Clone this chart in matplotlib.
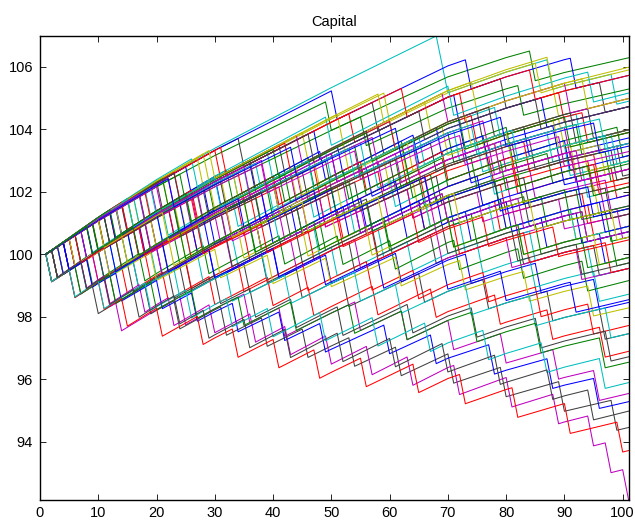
import numpy as np
import matplotlib
matplotlib.use("Agg")
import matplotlib.pyplot as plt

plt.rcParams['font.family'] = ['Liberation Sans', 'DejaVu Sans']

# ---- data ----
time_first, time_last = 1, 101
start_capital = 100.0
# premium income per step, for steps starting in each decade 0-9, 10-19, ... 90-100
decade_drift = [0.125, 0.115, 0.105, 0.095, 0.095, 0.09, 0.09, 0.065, 0.055, 0.045]
claim_size = 1.0

claim_times = [
    [8, 23, 41, 57, 74, 90],
    [12, 30, 55, 71, 93],
    [3, 15, 27, 38, 52, 66, 79, 95],
    [69, 70, 88, 99],
    [5, 19, 33, 46, 60, 81, 97],
    [10, 24, 44, 63, 77, 92],
    [3, 6, 10, 26, 39, 54, 68, 83, 96],
    [14, 37, 51, 73, 89],
    [50, 85],
    [2, 18, 35, 49, 64, 80, 94],
    [7, 21, 40, 58, 76, 91],
    [5, 9, 12, 14, 25, 36, 42, 55, 63, 71, 80, 89, 96],
    [17, 32, 48, 70, 90],
    [35, 58, 80, 97],
    [51, 74, 92],
    [6, 20, 38, 62, 75, 98],
    [31, 54, 73, 90],
    [9, 22, 34, 47, 61, 78, 94],
    [11, 20, 31, 45, 56, 68, 82, 100],
    [28, 60, 86],
    [4, 11, 17, 25, 36, 45, 53, 66, 77, 88, 97],
    [15, 29, 52, 69, 84],
    [7, 16, 24, 37, 49, 60, 75, 86, 99],
    [13, 27, 42, 59, 78, 95],
    [19, 40, 61, 79, 93],
    [12, 26, 39, 53, 67, 85, 98],
    [22, 46, 67, 89],
    [2, 14, 28, 43, 57, 70, 84, 94],
    [6, 12, 21, 30, 41, 50, 62, 74, 86, 96],
    [16, 33, 47, 63, 81, 100],
    [3, 8, 15, 22, 30, 40, 47, 58, 68, 79, 88, 97],
    [18, 36, 56, 72, 88],
    [13, 27, 44, 62, 80, 92],
    [9, 20, 36, 52, 65, 83, 96],
    [21, 42, 59, 76, 95],
    [4, 17, 30, 44, 55, 69, 81, 93],
    [25, 56, 83],
    [11, 23, 37, 50, 66, 82, 99],
    [5, 13, 26, 34, 48, 59, 73, 85, 95],
    [20, 45, 70, 91],
    [8, 25, 41, 60, 79, 97],
    [2, 7, 13, 19, 24, 32, 39, 46, 54, 62, 71, 80, 90, 99],
    [14, 31, 49, 65, 77, 91],
    [10, 19, 32, 45, 57, 71, 87, 98],
    [24, 43, 61, 75, 94],
    [3, 11, 20, 28, 39, 51, 64, 76, 85, 96],
    [6, 18, 33, 49, 64, 76, 90],
    [29, 52, 75, 94],
    [15, 29, 46, 61, 82, 100],
    [8, 18, 27, 38, 53, 63, 74, 87, 97],
    [12, 28, 40, 54, 68, 83, 93],
    [5, 10, 19, 26, 35, 46, 57, 65, 77, 86, 95],
    [17, 34, 50, 66, 81, 99],
    [23, 39, 58, 77, 91],
    [4, 14, 25, 38, 51, 67, 80, 92],
    [10, 24, 38, 55, 69, 84, 98],
    [26, 48, 72, 87],
    [2, 9, 18, 29, 42, 52, 61, 72, 83, 94],
    [19, 35, 48, 63, 84, 96],
    [7, 15, 28, 41, 54, 67, 78, 92],
    [3, 10, 21, 33, 44, 55, 69, 81, 93],
    [16, 34, 53, 74, 89],
    [5, 11, 16, 23, 31, 37, 44, 52, 64, 75, 86, 98],
    [13, 25, 39, 51, 67, 79, 95],
    [22, 41, 57, 73, 91],
    [6, 17, 26, 36, 47, 58, 72, 84, 98],
    [27, 50, 71, 95],
    [9, 28, 45, 59, 78, 93],
    [4, 12, 20, 31, 40, 50, 62, 73, 84, 95],
    [18, 37, 57, 78, 92],
    [5, 16, 29, 40, 56, 66, 80, 97],
    [11, 24, 36, 51, 66, 79, 91],
    [32, 63, 85],
    [2, 8, 17, 24, 33, 43, 55, 62, 74, 85, 98],
    [3, 8, 12, 18, 23, 30, 37, 43, 50, 57, 64, 72, 81, 89, 95, 98, 101],
    [14, 30, 45, 64, 81, 94],
    [7, 14, 22, 33, 45, 58, 70, 82, 93],
    [4, 9, 14, 21, 27, 34, 42, 49, 60, 68, 78, 88, 96],
    [10, 26, 43, 56, 70, 88],
    [15, 27, 41, 56, 70, 82, 96],
    [20, 38, 54, 75, 97],
    [8, 19, 32, 42, 55, 70, 83, 94],
    [30, 59, 88],
    [12, 32, 50, 68, 85, 99],
    [9, 21, 35, 48, 62, 76, 93],
    [3, 7, 13, 20, 27, 35, 44, 54, 63, 75, 86, 97],
    [2, 6, 11, 15, 21, 28, 34, 41, 48, 56, 65, 73, 82, 91, 100],
    [16, 31, 47, 65, 82, 98],
    [21, 39, 55, 73, 90],
    [6, 15, 23, 35, 46, 57, 71, 83, 96],
    [24, 47, 66, 86],
    [5, 13, 22, 30, 41, 49, 59, 70, 80, 92],
    [13, 26, 42, 53, 64, 80, 95],
    [7, 18, 28, 39, 52, 65, 77, 89],
    [2, 6, 11, 19, 26, 33, 40, 49, 58, 67, 77, 87, 97],
    [18, 36, 51, 65, 79, 92],
    [11, 22, 33, 46, 59, 72, 85, 99],
    [3, 8, 12, 17, 24, 29, 36, 43, 52, 61, 70, 79, 88, 95],
    [23, 44, 62, 80, 96],
    [9, 17, 25, 37, 48, 60, 71, 83, 94],
]

drift_scale = [
    1.00, 0.98, 1.02, 1.02, 0.97, 1.03, 0.98, 1.00, 0.95, 0.95,
    1.03, 0.98, 1.02, 1.00, 1.00, 0.97, 1.00, 1.05, 0.98, 1.02,
    0.97, 1.03, 1.00, 0.95, 1.02, 0.98, 1.03, 1.00, 0.97, 1.05,
    1.02, 0.98, 1.00, 0.97, 1.03, 1.00, 0.95, 1.02, 0.98, 1.03,
    1.00, 0.97, 1.05, 0.98, 1.02, 1.00, 0.95, 1.03, 0.98, 1.02,
    0.97, 1.00, 1.03, 0.98, 1.02, 0.95, 1.00, 1.05, 0.97, 1.02,
    0.98, 1.03, 1.00, 0.97, 1.02, 0.98, 1.05, 1.00, 0.95, 1.03,
    1.02, 0.98, 1.00, 0.97, 1.05, 1.03, 1.00, 0.95, 1.02, 1.05,
    0.98, 1.00, 1.03, 0.97, 1.02, 0.98, 1.00, 1.03, 0.95, 1.02,
    1.00, 0.98, 1.05, 0.97, 1.02, 1.00, 0.98, 1.03, 0.97, 1.02,
]

x_ticks = list(range(0, 101, 10))
y_ticks = [94, 96, 98, 100, 102, 104, 106]
title = "Capital"

# MATLAB classic colour order
line_colors = [(0, 0, 1), (0, 0.5, 0), (1, 0, 0), (0, 0.75, 0.75),
               (0.75, 0, 0.75), (0.75, 0.75, 0), (0.25, 0.25, 0.25)]

# ---- build paths ----
t = np.arange(time_first, time_last + 1)
step_rate = np.array([decade_drift[min(int(s) // 10, 9)] for s in t[:-1]])
premium = np.concatenate([[0.0], np.cumsum(step_rate)])

fig = plt.figure(figsize=(6.35, 5.21), dpi=100)
ax = fig.add_axes([40 / 635, (521 - 499.5) / 521, (628.5 - 40) / 635, (499.5 - 36) / 521])

ymin, ymax = np.inf, -np.inf
for i, (times, sc) in enumerate(zip(claim_times, drift_scale)):
    n_claims = np.array([np.sum(np.array(times) <= s) for s in t])
    y = start_capital + sc * premium - claim_size * n_claims
    ymin, ymax = min(ymin, y.min()), max(ymax, y.max())
    ax.plot(t, y, color=line_colors[i % 7], lw=0.75)

ax.set_xlim(0, 101)
ax.set_ylim(ymin, ymax)
ax.set_xticks(x_ticks)
ax.set_yticks(y_ticks)
ax.tick_params(direction='in', top=True, right=True, length=4, width=0.6,
               labelsize=10.5, pad=5)
for sp in ax.spines.values():
    sp.set_linewidth(1.0)
ax.set_title(title, fontsize=10.5, pad=7)

fig.savefig("out.png", dpi=100)
